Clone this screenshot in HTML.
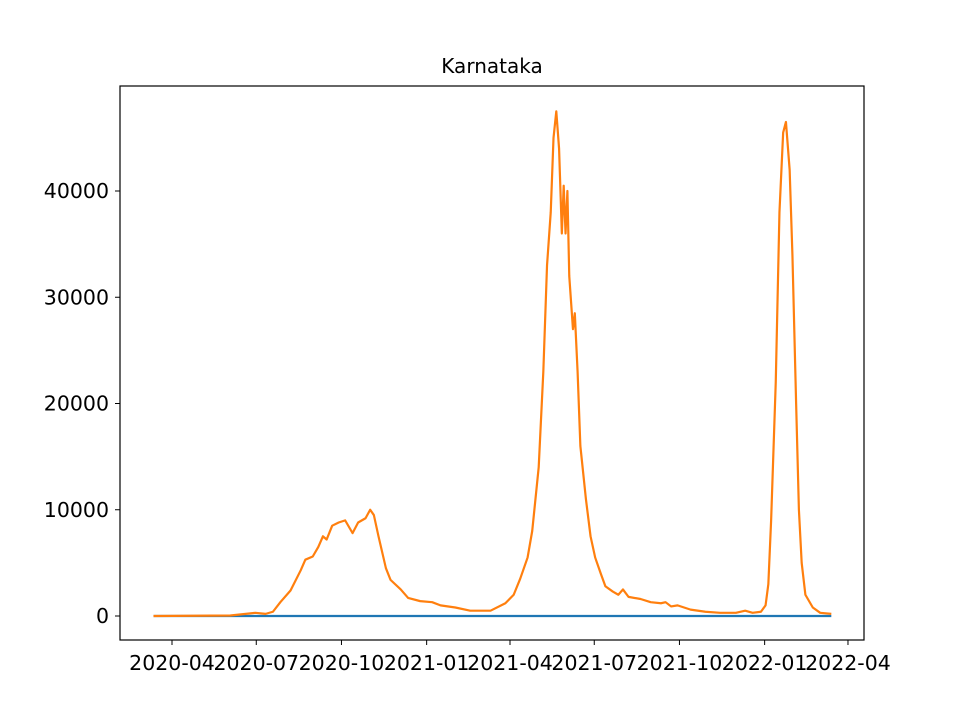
<!DOCTYPE html>
<html><head><meta charset="utf-8"><style>
body{margin:0;background:#fff}
svg text{font-family:"DejaVu Sans","Liberation Sans",sans-serif;font-size:20.5px;fill:#000}
</style></head><body>
<svg id="chart" width="960" height="720">
<text x="492" y="73" text-anchor="middle" style="font-size:20px">Karnataka</text>
<g id="series"></g>
<rect x="120" y="86" width="744" height="554" fill="none" stroke="#000" stroke-width="1.2"/>
<g id="axes"></g>
</svg>
<script>
const tickDays=[20,111,203,295,385,476,568,660,750];
const tickLabels=["2020-04","2020-07","2020-10","2021-01","2021-04","2021-07","2021-10","2022-01","2022-04"];
const yTicks=[0,10000,20000,30000,40000];
const days=[0,83,110,121,129,137,148,159,164,172,178,183,187,193,200,207,215,221,229,234,238,243,251,256,267,275,288,301,310,326,342,364,380,389,396,404,409,416,421,425,429,432,435,438,441,443,445,447,449,453,455,458,461,467,472,477,483,488,496,502,507,513,526,537,548,553,559,566,580,596,612,629,639,647,656,661,664,667,672,676,680,683,687,690,694,697,700,704,712,720,732];
const cases=[0,50,300,200,400,1300,2400,4300,5300,5600,6500,7500,7200,8500,8800,9000,7800,8800,9200,10000,9500,7500,4500,3400,2500,1700,1400,1300,1000,800,500,500,1200,2000,3500,5500,8000,14000,23000,33000,38000,45000,47500,44000,36000,40500,36000,40000,32000,27000,28500,23000,16000,11000,7500,5500,4000,2800,2300,2000,2500,1800,1600,1300,1200,1300,900,1000,600,400,300,300,500,300,400,1000,3000,9000,22000,38000,45500,46500,42000,34000,20000,10000,5000,2000,800,300,200];
const deaths=days.map(()=>0);
const X=d=>172+(d-20)*0.926;
const Y=v=>616-v*0.010625;
const NS="http://www.w3.org/2000/svg";
const ax=document.getElementById('axes'), se=document.getElementById('series');
function mk(t,a,p){const e=document.createElementNS(NS,t);for(const k in a)e.setAttribute(k,a[k]);p.appendChild(e);return e;}
tickDays.forEach((d,i)=>{
  const l=mk('line',{x1:X(d),x2:X(d),y1:640,y2:645,stroke:'#000'},ax);
  
  
  const t=mk('text',{x:X(d),y:670,'text-anchor':'middle'},ax);t.textContent=tickLabels[i];
  
  
});
yTicks.forEach(v=>{
  const l=mk('line',{x1:115,x2:120,y1:Y(v),y2:Y(v),stroke:'#000'},ax);
  
  
  const t=mk('text',{x:109,y:Y(v)+7,'text-anchor':'end'},ax);t.textContent=v;
  
  
});
function line(vals,color,name){
  const p=mk('polyline',{points:days.map((d,i)=>X(d)+','+Y(vals[i])).join(' '),fill:'none',stroke:color,'stroke-width':2.2,'stroke-linejoin':'round'},se);
  
  
}
line(deaths,'#1f77b4','deaths-line');
line(cases,'#ff7f0e','cases-line');
</script>
</body></html>
